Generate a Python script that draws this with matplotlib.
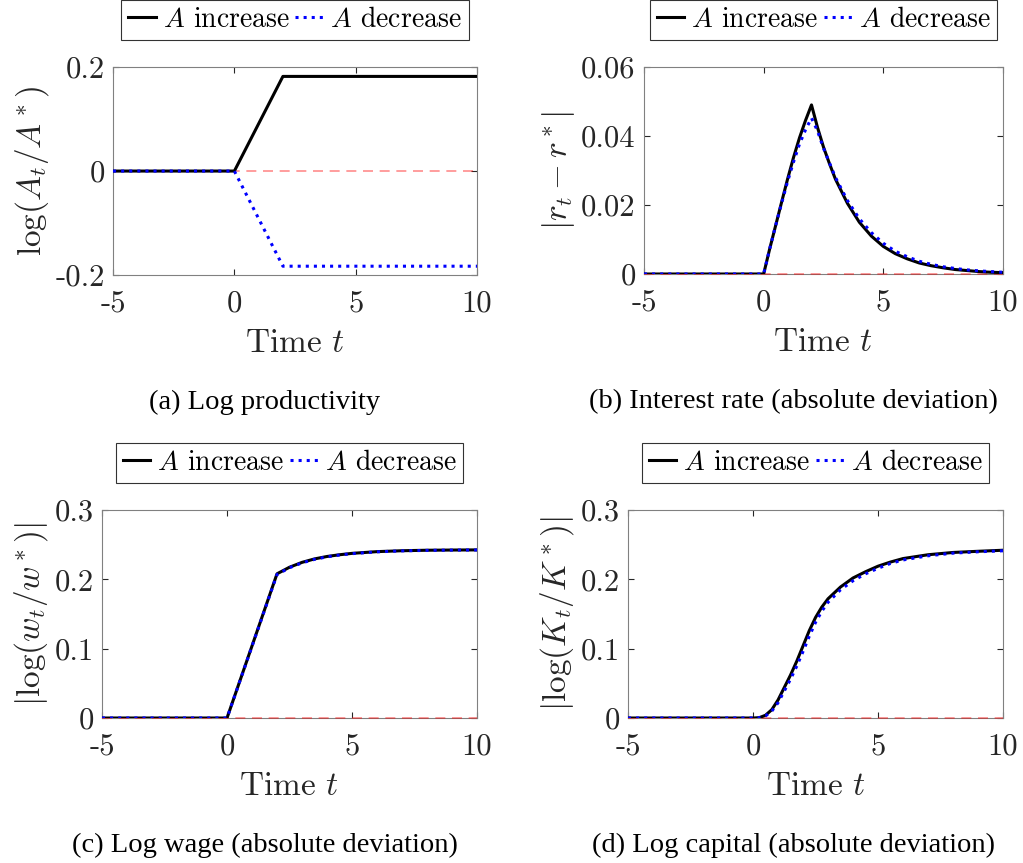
"""
Productivity shock: impulse responses (four panels)
Output: out.png
"""
import matplotlib
matplotlib.use("Agg")
import matplotlib.pyplot as plt

plt.rcParams["font.family"] = ["cmr10", "DejaVu Sans"]
plt.rcParams["mathtext.fontset"] = "cm"
plt.rcParams["axes.unicode_minus"] = False

# ============================================================
# data
# ============================================================
# (a) log productivity
t_a = [-5, 0, 2, 10]
a_up = [0, 0, 0.182, 0.182]
a_down = [0, 0, -0.183, -0.183]

# (b) interest rate, absolute deviation
t_b = [-5, 0, 0.25, 0.5, 0.75, 1, 1.25, 1.5, 1.75, 2, 2.25, 2.5, 2.75, 3,
       3.5, 4, 4.5, 5, 5.5, 6, 6.5, 7, 7.5, 8, 8.5, 9, 9.5, 10]
r_up = [0, 0, 0.0072, 0.014, 0.0208, 0.0275, 0.0338, 0.0395, 0.0445, 0.049,
        0.0425, 0.0368, 0.032, 0.0275, 0.0205, 0.0150, 0.0110, 0.0080, 0.0059,
        0.0044, 0.0032, 0.0024, 0.0018, 0.0013, 0.0010, 0.0007, 0.0005, 0.0004]
r_down = [0, 0, 0.0072, 0.014, 0.0205, 0.0268, 0.0325, 0.0377, 0.0418, 0.0452,
          0.0415, 0.0365, 0.0322, 0.0280, 0.0213, 0.0160, 0.0120, 0.0089, 0.0066,
          0.0050, 0.0037, 0.0028, 0.0021, 0.0016, 0.0012, 0.0009, 0.0007, 0.0005]

# (c) log wage, absolute deviation
t_c = [-5, 0, 2, 2.5, 3, 3.5, 4, 4.5, 5, 6, 7, 8, 9, 10]
w_up = [0, 0, 0.208, 0.2175, 0.2245, 0.2295, 0.2330, 0.2355, 0.2375, 0.2400,
        0.2413, 0.2420, 0.2423, 0.2425]
w_down = [0, 0, 0.207, 0.2168, 0.2238, 0.2289, 0.2325, 0.2351, 0.2371, 0.2397,
          0.2411, 0.2418, 0.2422, 0.2424]

# (d) log capital, absolute deviation
t_d = [-5, 0, 0.25, 0.5, 0.75, 1, 1.25, 1.5, 1.75, 2, 2.25, 2.5, 2.75, 3,
       3.5, 4, 4.5, 5, 5.5, 6, 7, 8, 9, 10]
k_up = [0, 0, 0.0005, 0.004, 0.012, 0.026, 0.044, 0.062, 0.082, 0.104, 0.126,
        0.145, 0.160, 0.172, 0.189, 0.202, 0.211, 0.219, 0.225, 0.230, 0.2355,
        0.2388, 0.2405, 0.2420]
k_down = [0, 0, 0.0004, 0.003, 0.010, 0.022, 0.039, 0.056, 0.075, 0.096, 0.118,
          0.138, 0.154, 0.167, 0.185, 0.198, 0.208, 0.216, 0.223, 0.228, 0.234,
          0.2378, 0.2398, 0.2412]

xticks = [-5, 0, 5, 10]
xticklabels = ["-5", "0", "5", "10"]

panels = [
    # (rect, t, up, down, ylim, yticks, yticklabels, ylabel, caption, caption x)
    ([0.1105, 0.6813, 0.3558, 0.2410], t_a, a_up, a_down, (-0.2, 0.2),
     [-0.2, 0, 0.2], ["-0.2", "0", "0.2"], r"$\log(A_t/A^*)$",
     "(a) Log productivity", 0.259),
    ([0.6295, 0.6825, 0.3509, 0.2399], t_b, r_up, r_down, (0, 0.06),
     [0, 0.02, 0.04, 0.06], ["0", "0.02", "0.04", "0.06"], r"$|r_t - r^*|$",
     "(b) Interest rate (absolute deviation)", 0.776),
    ([0.0997, 0.1680, 0.3666, 0.2410], t_c, w_up, w_down, (0, 0.3),
     [0, 0.1, 0.2, 0.3], ["0", "0.1", "0.2", "0.3"], r"$|\log(w_t/w^*)|$",
     "(c) Log wage (absolute deviation)", 0.259),
    ([0.6139, 0.1680, 0.3666, 0.2410], t_d, k_up, k_down, (0, 0.3),
     [0, 0.1, 0.2, 0.3], ["0", "0.1", "0.2", "0.3"], r"$|\log(K_t/K^*)|$",
     "(d) Log capital (absolute deviation)", 0.776),
]

fig = plt.figure(figsize=(10.23, 8.63), dpi=100)
grey = "#262626"

for rect, t, up, down, ylim, yt, ytl, ylab, cap, cap_x in panels:
    ax = fig.add_axes(rect)
    ax.axhline(0, color=(1, 0, 0), alpha=0.45, linestyle=(0, (6, 4)),
               linewidth=1.2, zorder=2.6, clip_on=False)
    ax.plot(t, up, color="black", linewidth=2.2, label=r"$A$ increase", zorder=3)
    ax.plot(t, down, color="blue", linestyle=":", linewidth=2.2,
            label=r"$A$ decrease", zorder=4)
    ax.set_xlim(-5, 10)
    ax.set_ylim(*ylim)
    ax.set_xticks(xticks)
    ax.set_xticklabels(xticklabels)
    ax.set_yticks(yt)
    ax.set_yticklabels(ytl)
    ax.tick_params(direction="in", top=True, right=True, length=4,
                   width=0.8, colors=grey, labelsize=22)
    ax.tick_params(axis="x", pad=11)
    ax.tick_params(axis="y", pad=6)
    for sp in ax.spines.values():
        sp.set_color("#808080")
        sp.set_linewidth(0.8)
    ax.set_xlabel(r"Time $t$", fontsize=24, color=grey, labelpad=8)
    ax.set_ylabel(ylab, fontsize=24, color=grey, labelpad=3)
    leg = ax.legend(loc="lower center", bbox_to_anchor=(0.5, 1.13), ncol=2,
                    fontsize=20, frameon=True, fancybox=False, handlelength=1.0,
                    handletextpad=0.25, columnspacing=0.2, borderpad=0.25,
                    borderaxespad=0)
    leg.get_frame().set_edgecolor("black")
    leg.get_frame().set_linewidth(0.8)
    fig.text(cap_x, rect[1] - 0.148, cap, ha="center", va="center",
             fontsize=20.5, family="Liberation Serif")

fig.savefig("out.png", dpi=100)
print("[OK] out.png")
